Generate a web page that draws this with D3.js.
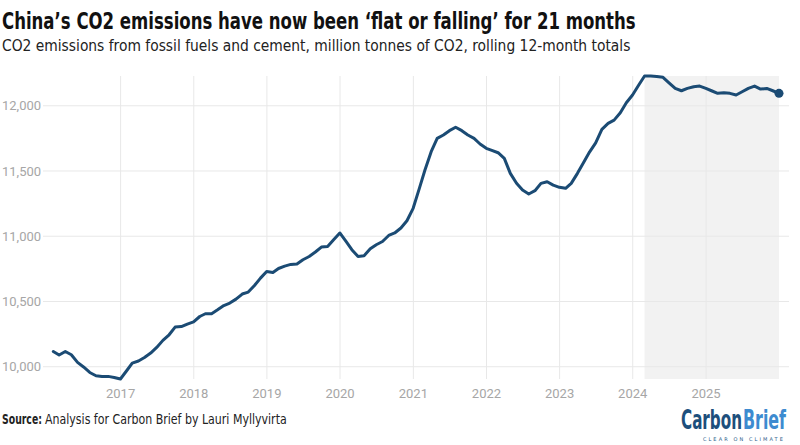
<!DOCTYPE html>
<html>
<head>
<meta charset="utf-8">
<script src="https://cdn.jsdelivr.net/npm/d3@7.9.0/dist/d3.min.js"></script>
<style>
  body { margin: 0; background: #fff; }
  svg { display: block; }
  .cond { font-family: "Liberation Sans Narrow", "DejaVu Sans Condensed", "Roboto", sans-serif; }
  .axis { font-family: "Roboto", sans-serif; font-size: 13px; fill: #a6a6a6; }
</style>
</head>
<body>
<svg id="chart" width="800" height="445"></svg>
<script>
// monthly rolling 12-month totals, Jan 2016 .. Dec 2025 (MtCO2)
const startYear = 2016;
const emissions = [
  10117, 10090, 10117, 10092, 10033, 9998, 9956, 9931, 9926, 9926, 9918, 9906,
  9969, 10028, 10044, 10071, 10105, 10148, 10202, 10245, 10304, 10308, 10327, 10344,
  10385, 10406, 10406, 10436, 10469, 10488, 10518, 10557, 10572, 10623, 10679, 10730,
  10722, 10753, 10771, 10784, 10787, 10820, 10845, 10879, 10917, 10922, 10973, 11025,
  10960, 10897, 10845, 10851, 10904, 10935, 10960, 11006, 11025, 11063, 11119, 11214,
  11367, 11508, 11648, 11750, 11776, 11809, 11835, 11809, 11776, 11750, 11707, 11674,
  11656, 11640, 11597, 11482, 11406, 11354, 11324, 11349, 11405, 11418, 11392, 11375,
  11367, 11405, 11482, 11563, 11647, 11716, 11819, 11865, 11890, 11946, 12023, 12082,
  12159, 12228, 12228, 12225, 12218, 12176, 12133, 12115, 12133, 12146, 12151, 12133,
  12113, 12095, 12100, 12095, 12082, 12107, 12133, 12151, 12128, 12133, 12115, 12095
];
const yTicks = [10000, 10500, 11000, 11500, 12000];
const xTickYears = [2017, 2018, 2019, 2020, 2021, 2022, 2023, 2024, 2025];
const flatStart = 97; // index of the Feb 2024 peak

const data = emissions.map((v, i) => ({ date: new Date(startYear, i + 1, 0), value: v }));

const svg = d3.select('#chart');
const plotTop = 76, plotBottom = 379, plotLeft = 53.3, plotRight = 779;

const x = d3.scaleTime().domain(d3.extent(data, d => d.date)).range([plotLeft, plotRight]);
const y = d3.scaleLinear().domain(d3.extent(data, d => d.value)).range([plotBottom, plotTop]);

// shaded "flat or falling" period
svg.append('rect')
  .attr('x', x(data[flatStart].date))
  .attr('y', plotTop)
  .attr('width', x(data[data.length - 1].date) - x(data[flatStart].date))
  .attr('height', plotBottom - plotTop)
  .attr('fill', '#f2f2f2');

// horizontal grid + labels
yTicks.forEach(t => {
  svg.append('line')
    .attr('x1', 43).attr('x2', 789)
    .attr('y1', y(t)).attr('y2', y(t))
    .attr('stroke', '#e8e8e8').attr('stroke-width', 1);
  svg.append('text')
    .attr('class', 'axis')
    .attr('x', 2).attr('y', y(t)).attr('dy', '0.35em')
    .text(d3.format(',')(t));
});

// vertical grid + labels
xTickYears.forEach(yr => {
  const xx = x(new Date(yr, 0, 1));
  svg.append('line')
    .attr('x1', xx).attr('x2', xx)
    .attr('y1', plotTop).attr('y2', plotBottom)
    .attr('stroke', '#e8e8e8').attr('stroke-width', 1);
  svg.append('text')
    .attr('class', 'axis')
    .attr('x', xx).attr('y', 398)
    .attr('text-anchor', 'middle')
    .text(yr);
});

const line = d3.line().x(d => x(d.date)).y(d => y(d.value));
svg.append('path')
  .datum(data)
  .attr('d', line)
  .attr('fill', 'none')
  .attr('stroke', '#1b4b74')
  .attr('stroke-width', 3)
  .attr('stroke-linejoin', 'round')
  .attr('stroke-linecap', 'round');

const last = data[data.length - 1];
svg.append('circle')
  .attr('cx', x(last.date)).attr('cy', y(last.value))
  .attr('r', 4.5).attr('fill', '#1b4b74');

// condensed text squeezed horizontally to a given width
function fitText(str, x0, y0, width, size, weight, fill) {
  const g = svg.append('g');
  const t = g.append('text').attr('class', 'cond')
    .attr('font-size', size).attr('font-weight', weight).attr('fill', fill)
    .text(str);
  const natural = t.node().getComputedTextLength();
  g.attr('transform', `translate(${x0},${y0}) scale(${width / natural},1)`);
  return t;
}

fitText('China’s CO2 emissions have now been ‘flat or falling’ for 21 months', 2, 29, 634, 23, 'bold', '#111');
fitText('CO2 emissions from fossil fuels and cement, million tonnes of CO2, rolling 12-month totals', 2, 51, 629, 16, 'normal', '#222');

fitText('Source:', 2, 424, 40, 14, 'bold', '#222');
fitText('Analysis for Carbon Brief by Lauri Myllyvirta', 45, 424, 242, 14, 'normal', '#222');

fitText('Carbon', 681, 429, 61, 26, 'bold', '#1d4f7c');
fitText('Brief', 743, 429, 43, 26, 'bold', '#3d8bd0');

svg.append('text')
  .attr('x', 785).attr('y', 441)
  .attr('text-anchor', 'end')
  .attr('font-family', 'DejaVu Sans, sans-serif')
  .attr('font-size', 5).attr('fill', '#2a5d8a')
  .attr('letter-spacing', 2.1)
  .text('CLEAR ON CLIMATE');
</script>
</body>
</html>
